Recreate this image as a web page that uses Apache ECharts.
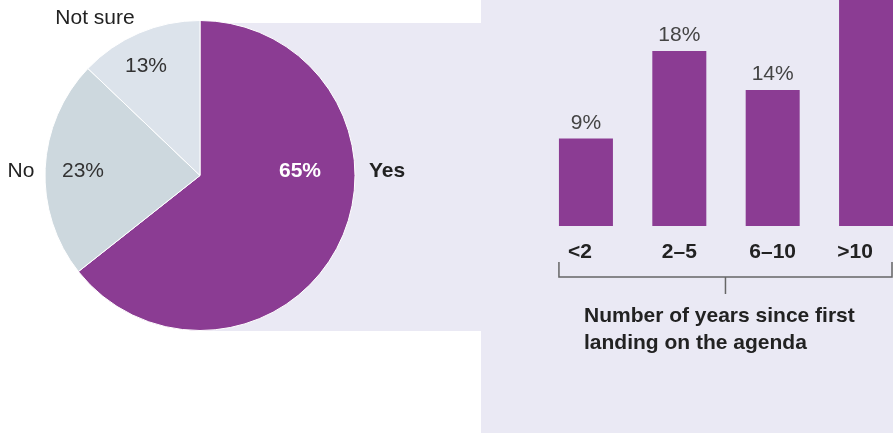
<!DOCTYPE html>
<html><head><meta charset="utf-8">
<script src="https://cdn.jsdelivr.net/npm/echarts@6/dist/echarts.min.js"></script>
<style>html,body{margin:0;padding:0;background:#fff}#c{width:893px;height:433px}</style>
</head><body><div id="c"></div>
<script>
const pieNames = ['Yes', 'No', 'Not sure'];
const pieValues = [65, 23, 13];
const barCategories = ['<2', '2–5', '6–10', '>10'];
const barValues = [9, 18, 14, 59];
const axisTitle = 'Number of years since first\nlanding on the agenda';

const PURPLE = '#8b3c93';
const LAV = '#eae9f4';
const FONT = '"Liberation Sans", Arial, Helvetica, sans-serif';
const pieColors = [PURPLE, '#cdd8de', '#dce3eb'];
// label placement (style) for the pie labels
const pctPos = {'Yes': [300, 171], 'No': [83, 171], 'Not sure': [146, 66]};
const namePos = {'Yes': [387, 171], 'No': [21, 171], 'Not sure': [95, 18]};
// per-category label nudges (style)
const labelStyleKey = ['l', 'c', 'c', 'r'];

const GRID_LEFT = 539.25, GRID_H = 226, BAR_W = 54, STEP = 93.375;
const X_MAX = (893 - GRID_LEFT) / STEP - 0.5;

const chart = echarts.init(document.getElementById('c'), null, {renderer: 'canvas'});

const pieData = pieNames.map((n, i) => ({
  name: n, value: pieValues[i], itemStyle: {color: pieColors[i]},
  label: i === 0 ? {color: '#fff', fontWeight: 'bold'} : {}
}));
const nameData = pieNames.map((n, i) => ({
  name: n, value: pieValues[i],
  label: i === 0 ? {fontWeight: 'bold'} : {}
}));
const barData = barValues.map((v, i) => [i, v]);

const x0 = GRID_LEFT + STEP / 2 - BAR_W / 2;
const x1 = 892;
const xm = (x0 + x1) / 2;

chart.setOption({
  animation: false,
  textStyle: {fontFamily: FONT},
  graphic: [
    {type: 'rect', z: -10, silent: true, shape: {x: 200, y: 23, width: 281, height: 308}, style: {fill: LAV}},
    {type: 'rect', z: -10, silent: true, shape: {x: 481, y: 0, width: 412, height: 433}, style: {fill: LAV}},
    {type: 'text', left: 584, top: 303, silent: true, style: {text: axisTitle, font: 'bold 21px ' + FONT, fill: '#222', lineHeight: 27}},
    {type: 'polyline', z: 5, silent: true, shape: {points: [[x0, 262], [x0, 277], [x1, 277], [x1, 262]]}, style: {stroke: '#666', lineWidth: 1.5, fill: null}},
    {type: 'line', z: 5, silent: true, shape: {x1: xm, y1: 277, x2: xm, y2: 294}, style: {stroke: '#666', lineWidth: 1.5}}
  ],
  grid: {left: GRID_LEFT, right: 0, top: 0, height: GRID_H, containLabel: false},
  xAxis: {
    type: 'value', min: -0.5, max: X_MAX, interval: 0.5,
    axisLine: {show: false}, axisTick: {show: false}, splitLine: {show: false},
    axisLabel: {
      showMinLabel: false, showMaxLabel: false,
      fontSize: 21, fontWeight: 'bold', color: '#222', margin: 16, fontFamily: FONT,
      formatter: function (v) {
        const i = Math.round(v);
        if (Math.abs(v - i) > 1e-6 || i < 0 || i >= barCategories.length) return '';
        return '{' + labelStyleKey[i] + '|' + barCategories[i] + '}';
      },
      rich: {
        l: {fontSize: 21, fontWeight: 'bold', color: '#222', fontFamily: FONT, padding: [0, 12, 0, 0]},
        c: {fontSize: 21, fontWeight: 'bold', color: '#222', fontFamily: FONT},
        r: {fontSize: 21, fontWeight: 'bold', color: '#222', fontFamily: FONT, padding: [0, 22, 0, 0]}
      }
    }
  },
  yAxis: {type: 'value', min: 0, max: 23.25, show: false, splitLine: {show: false}},
  series: [
    {
      type: 'pie', center: [200, 175.5], radius: 155, startAngle: 90, clockwise: true,
      z: 2, data: pieData, itemStyle: {borderColor: '#fff', borderWidth: 1},
      label: {show: true, position: 'inside', formatter: '{c}%', fontSize: 21, fontFamily: FONT, color: '#333'},
      labelLine: {show: false},
      labelLayout: function (p) {
        const pos = pctPos[pieNames[p.dataIndex]];
        return {x: pos[0], y: pos[1], align: 'center', verticalAlign: 'middle'};
      },
      emphasis: {disabled: true}
    },
    {
      type: 'pie', center: [200, 175.5], radius: 155, startAngle: 90, clockwise: true,
      z: 1, silent: true, data: nameData,
      itemStyle: {color: 'rgba(0,0,0,0)'},
      label: {show: true, position: 'inside', formatter: '{b}', fontSize: 21, fontFamily: FONT, color: '#222'},
      labelLine: {show: false},
      labelLayout: function (p) {
        const pos = namePos[pieNames[p.dataIndex]];
        return {x: pos[0], y: pos[1], align: 'center', verticalAlign: 'middle'};
      },
      emphasis: {disabled: true}
    },
    {
      type: 'bar', data: barData, barWidth: BAR_W, clip: true,
      itemStyle: {color: PURPLE},
      label: {show: true, position: 'top', distance: 5, formatter: p => p.value[1] + '%', fontSize: 21, color: '#444', fontFamily: FONT},
      emphasis: {disabled: true}
    }
  ]
});
</script></body></html>
